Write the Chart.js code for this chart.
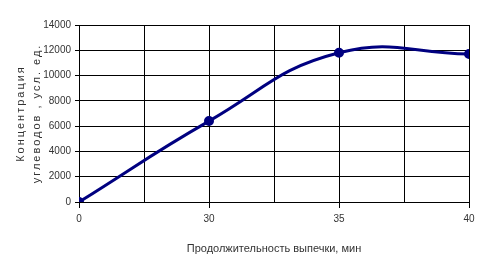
<!DOCTYPE html>
<html>
<head>
<meta charset="utf-8">
<script src="https://cdn.jsdelivr.net/npm/chart.js@4"></script>
<style>
  html, body { margin: 0; padding: 0; background: #fff; }
  #wrap { width: 488px; height: 276px; }
</style>
</head>
<body>
<div id="wrap"><canvas id="grafik"></canvas></div>
<script>
// данные графика
const vremya = ['0', '30', '35', '40'];
const konc = [0, 6400, 11800, 11700];
const yTicks = [0, 2000, 4000, 6000, 8000, 10000, 12000, 14000];
const yNazvanie = ['Концентрация', 'углеводов , усл. ед.'];

const ctx = document.getElementById('grafik');

// точки по индексу категории (ось линейная, чтобы были линии посередине)
var tochki = [];
for (var i = 0; i < vremya.length; i++) {
    tochki.push({ x: i, y: konc[i] });
}

const shrift = "'Liberation Sans', Arial, sans-serif";

// подпись оси Y в разрядку (в Chart.js нет letterSpacing)
const podpisY = {
    id: 'podpisY',
    afterDraw: function (chart) {
        var c = chart.ctx;
        var y = (chart.chartArea.top + chart.chartArea.bottom) / 2;
        var xs = [21, 37];
        c.save();
        c.fillStyle = '#333';
        c.font = '11px ' + shrift;
        c.letterSpacing = '2px';
        c.textAlign = 'center';
        c.textBaseline = 'middle';
        for (var k = 0; k < yNazvanie.length; k++) {
            c.save();
            c.translate(xs[k], y);
            c.rotate(-Math.PI / 2);
            c.fillText(yNazvanie[k], 0, 0);
            c.restore();
        }
        c.restore();
    }
};

new Chart(ctx, {
    type: 'line',
    data: {
        datasets: [{
            data: tochki,
            borderColor: '#000080',
            backgroundColor: '#000080',
            borderWidth: 3,
            pointRadius: 3.5,
            tension: 0.45
        }]
    },
    options: {
        responsive: true,
        maintainAspectRatio: false,
        animation: false,
        layout: { padding: { left: 0, right: 19, top: 25, bottom: 20 } },
        plugins: { legend: { display: false }, tooltip: { enabled: false } },
        scales: {
            x: {
                type: 'linear',
                min: 0,
                max: vremya.length - 1,
                ticks: {
                    stepSize: 0.5,
                    autoSkip: false,
                    maxRotation: 0,
                    padding: 5,
                    color: '#333',
                    font: { family: shrift, size: 10 },
                    callback: function (v) {
                        return Number.isInteger(v) ? vremya[v] : '';
                    }
                },
                grid: {
                    color: '#000',
                    lineWidth: 1,
                    tickLength: 6,
                    tickColor: function (c) {
                        return c.tick && Number.isInteger(c.tick.value) ? '#000' : 'rgba(0,0,0,0)';
                    }
                },
                border: { color: '#000', width: 1 },
                title: {
                    display: true,
                    text: 'Продолжительность выпечки, мин',
                    color: '#333',
                    font: { family: shrift, size: 11 },
                    padding: { top: 10, bottom: 0 }
                },
                afterFit: function (axis) { axis.height = 54; }
            },
            y: {
                min: 0,
                max: 14000,
                afterBuildTicks: function (axis) {
                    axis.ticks = yTicks.map(function (v) { return { value: v }; });
                },
                ticks: {
                    padding: 4,
                    color: '#333',
                    font: { family: shrift, size: 10 },
                    callback: function (v) { return String(v); }
                },
                grid: { color: '#000', lineWidth: 1, tickLength: 4, tickColor: '#000' },
                border: { color: '#000', width: 1 },
                afterFit: function (axis) { axis.width = 79; }
            }
        }
    },
    plugins: [podpisY]
});
</script>
</body>
</html>
